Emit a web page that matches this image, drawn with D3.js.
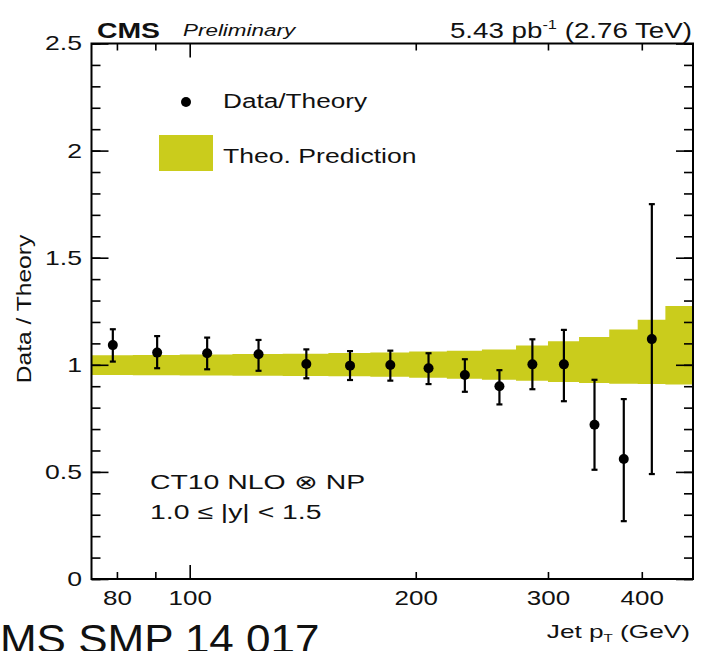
<!DOCTYPE html>
<html>
<head>
<meta charset="utf-8">
<script src="https://cdnjs.cloudflare.com/ajax/libs/d3/7.8.5/d3.min.js"></script>
<style>
  html, body { margin: 0; padding: 0; background: #fff; }
  svg { display: block; }
  text { font-family: "Liberation Sans", Arial, Helvetica, sans-serif; fill: #111; }
</style>
</head>
<body>
<svg id="chart" width="705" height="651"></svg>
<script>
// ---------------- data ----------------
const binEdges = [74, 84, 97, 114, 133, 153, 174, 196, 220, 245, 272, 300, 330, 362, 395, 430, 468];
const bandHigh = [1.045, 1.046, 1.048, 1.050, 1.052, 1.055, 1.058, 1.062, 1.066, 1.072, 1.090, 1.110, 1.130, 1.165, 1.210, 1.275];
const bandLow  = [0.952, 0.951, 0.950, 0.949, 0.948, 0.946, 0.944, 0.940, 0.935, 0.930, 0.925, 0.920, 0.915, 0.912, 0.910, 0.908];

const pointPt   = [79, 90.5, 105.5, 123.5, 143, 163.5, 185, 208, 232.5, 258.5, 286, 315, 346, 378.5, 412.5];
const ratio     = [1.092, 1.057, 1.054, 1.049, 1.004, 0.996, 0.999, 0.984, 0.952, 0.900, 1.002, 1.002, 0.720, 0.560, 1.120];
const errUpper  = [1.166, 1.134, 1.127, 1.116, 1.072, 1.064, 1.066, 1.054, 1.026, 0.975, 1.119, 1.163, 0.930, 0.840, 1.750];
const errLower  = [1.015, 0.984, 0.979, 0.972, 0.937, 0.929, 0.926, 0.910, 0.874, 0.815, 0.886, 0.830, 0.510, 0.270, 0.490];

const xMajorTicks = [100];
const xMinorTicks = [80, 90, 200, 300, 400];
const xTickLabels = [80, 100, 200, 300, 400];
const yTickLabels = [0, 0.5, 1, 1.5, 2, 2.5];
const yMinorTicks = d3.range(0, 2.5001, 0.1).map(v => +v.toFixed(2));

// ---------------- layout ----------------
const svg = d3.select("#chart");
const mLeft = 91.5, mRight = 693, mTop = 43.5, mBottom = 579;
const x = d3.scaleLog().domain([74, 468]).range([mLeft, mRight]);
const y = d3.scaleLinear().domain([0, 2.5]).range([mBottom, mTop]);
const bandColor = "#cacc1c";

// helper: text with horizontal stretch (the reference font is wide)
function addText(px, py, str, o = {}) {
  const t = svg.append("text")
    .attr("transform", `translate(${px},${py}) rotate(${o.rot || 0}) scale(${o.sx || 1},1)`)
    .attr("font-size", o.size || 20)
    .attr("text-anchor", o.anchor || "start");
  if (o.weight) t.attr("font-weight", o.weight);
  if (o.style) t.attr("font-style", o.style);
  if (str !== null) t.text(str);
  return t;
}

// band (step histogram)
const bandData = binEdges.map((e, i) => ({
  e,
  lo: bandLow[Math.min(i, bandLow.length - 1)],
  hi: bandHigh[Math.min(i, bandHigh.length - 1)]
}));
const area = d3.area()
  .x(d => x(d.e))
  .y0(d => y(d.lo))
  .y1(d => y(d.hi))
  .curve(d3.curveStepAfter);
svg.append("path").datum(bandData).attr("d", area).attr("fill", bandColor);

// error bars
const pts = pointPt.map((p, i) => ({ p, v: ratio[i], hi: errUpper[i], lo: errLower[i] }));
const eg = svg.append("g").attr("stroke", "#000").attr("stroke-width", 2.2);
eg.selectAll("line.err").data(pts).enter().append("line")
  .attr("x1", d => x(d.p)).attr("x2", d => x(d.p))
  .attr("y1", d => y(d.hi)).attr("y2", d => y(d.lo));
eg.selectAll("line.capT").data(pts).enter().append("line")
  .attr("x1", d => x(d.p) - 3).attr("x2", d => x(d.p) + 3)
  .attr("y1", d => y(d.hi)).attr("y2", d => y(d.hi));
eg.selectAll("line.capB").data(pts).enter().append("line")
  .attr("x1", d => x(d.p) - 3).attr("x2", d => x(d.p) + 3)
  .attr("y1", d => y(d.lo)).attr("y2", d => y(d.lo));
svg.append("g").selectAll("circle").data(pts).enter().append("circle")
  .attr("cx", d => x(d.p)).attr("cy", d => y(d.v)).attr("r", 5).attr("fill", "#000");

// axes (ticks inward)
const axisStyle = g => {
  g.select(".domain").remove();
  g.selectAll(".tick line").attr("stroke", "#000").attr("stroke-width", 1.6);
};
svg.append("g").attr("transform", `translate(0,${mBottom})`)
  .call(d3.axisBottom(x).tickValues(xMinorTicks).tickSize(-7).tickFormat("")).call(axisStyle);
svg.append("g").attr("transform", `translate(0,${mBottom})`)
  .call(d3.axisBottom(x).tickValues(xMajorTicks).tickSize(-14).tickFormat("")).call(axisStyle);
svg.append("g").attr("transform", `translate(0,${mTop})`)
  .call(d3.axisTop(x).tickValues(xMinorTicks).tickSize(-7).tickFormat("")).call(axisStyle);
svg.append("g").attr("transform", `translate(0,${mTop})`)
  .call(d3.axisTop(x).tickValues(xMajorTicks).tickSize(-14).tickFormat("")).call(axisStyle);

svg.append("g").attr("transform", `translate(${mLeft},0)`)
  .call(d3.axisLeft(y).tickValues(yMinorTicks).tickSize(-9).tickFormat("")).call(axisStyle);
svg.append("g").attr("transform", `translate(${mLeft},0)`)
  .call(d3.axisLeft(y).tickValues(yTickLabels).tickSize(-17).tickFormat("")).call(axisStyle);
svg.append("g").attr("transform", `translate(${mRight},0)`)
  .call(d3.axisRight(y).tickValues(yMinorTicks).tickSize(-9).tickFormat("")).call(axisStyle);
svg.append("g").attr("transform", `translate(${mRight},0)`)
  .call(d3.axisRight(y).tickValues(yTickLabels).tickSize(-17).tickFormat("")).call(axisStyle);

// tick labels
const xl = svg.append("g").attr("transform", `translate(0,${mBottom})`)
  .call(d3.axisBottom(x).tickValues(xTickLabels).tickSize(0).tickPadding(12).tickFormat(d3.format("d")));
xl.select(".domain").remove();
xl.selectAll("text").attr("font-size", 20).attr("fill", "#111")
  .attr("transform", "scale(1.3,1)")
  .style("font-family", '"Liberation Sans", Arial, sans-serif');

const yl = svg.append("g").attr("transform", `translate(${mLeft},0)`)
  .call(d3.axisLeft(y).tickValues(yTickLabels).tickSize(0).tickPadding(0).tickFormat(d => String(d)));
yl.select(".domain").remove();
yl.selectAll("text").attr("font-size", 20).attr("fill", "#111")
  .attr("x", 0)
  .attr("transform", "translate(-9.5,0) scale(1.33,1)")
  .style("font-family", '"Liberation Sans", Arial, sans-serif');

// frame
svg.append("rect").attr("x", mLeft).attr("y", mTop)
  .attr("width", mRight - mLeft).attr("height", mBottom - mTop)
  .attr("fill", "none").attr("stroke", "#000").attr("stroke-width", 2);

// header texts
addText(97, 38, "CMS", { size: 22, sx: 1.29, weight: "bold" });
addText(183, 36, "Preliminary", { size: 17, sx: 1.32, style: "italic" });
const lumi = addText(692, 38, null, { size: 22, sx: 1.26, anchor: "end" });
lumi.append("tspan").text("5.43 pb");
lumi.append("tspan").attr("font-size", 13).attr("dy", -9).text("-1");
lumi.append("tspan").attr("dy", 9).text(" (2.76 TeV)");

// legend
svg.append("circle").attr("cx", 186).attr("cy", 102).attr("r", 5).attr("fill", "#000");
addText(223, 108, "Data/Theory", { size: 20, sx: 1.31 });
svg.append("rect").attr("x", 159).attr("y", 135).attr("width", 54).attr("height", 36).attr("fill", bandColor);
addText(223, 163, "Theo. Prediction", { size: 20, sx: 1.33 });

// annotations
addText(150, 489, "CT10 NLO \u2297 NP", { size: 20, sx: 1.42 });
addText(150, 519, "1.0 \u2264 |y| < 1.5", { size: 20, sx: 1.42 });

// axis titles
addText(31, 309, "Data / Theory", { size: 20, sx: 1.23, rot: -90, anchor: "middle" });
const xt = addText(690, 638, null, { size: 19, sx: 1.38, anchor: "end" });
xt.append("tspan").text("Jet p");
xt.append("tspan").attr("font-size", 11).attr("dy", 4).text("T");
xt.append("tspan").attr("dy", -4).text(" (GeV)");

// footer
addText(-31.8, 653, "CMS SMP 14 017", { size: 40, sx: 1.1 });
</script>
</body>
</html>
